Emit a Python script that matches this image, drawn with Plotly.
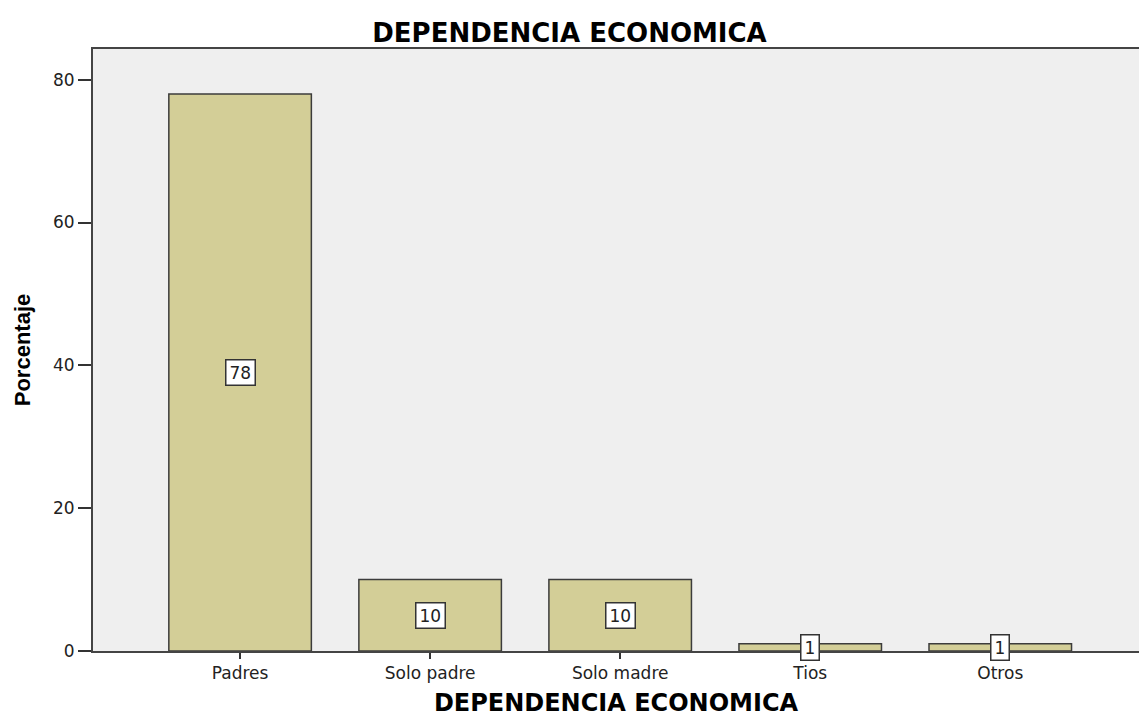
import plotly.graph_objects as go

categorias = ["Padres", "Solo padre", "Solo madre", "Tios", "Otros"]
porcentaje = [78, 10, 10, 1, 1]
ticks_y = [0, 20, 40, 60, 80]

FUENTE = "DejaVu Sans, Arial"

fig = go.Figure()

fig.add_trace(go.Bar(
    x=categorias,
    y=porcentaje,
    width=0.75,
    marker=dict(color="#D3CE97", line=dict(color="#3C3C3C", width=1.5)),
    hoverinfo="x+y",
))

# etiquetas de valor en recuadro blanco, al centro de cada barra
for cat, val in zip(categorias, porcentaje):
    fig.add_annotation(
        x=cat, y=val / 2, text=str(val), showarrow=False,
        font=dict(family=FUENTE, size=17, color="#222"),
        height=18,
        bgcolor="white", bordercolor="#333", borderwidth=1.5, borderpad=3,
    )

fig.update_layout(
    width=1139, height=718,
    margin=dict(l=93, r=0, t=49, b=67),
    paper_bgcolor="white",
    plot_bgcolor="#EFEFEF",
    showlegend=False,
    title=dict(text="<b>DEPENDENCIA ECONOMICA</b>", x=0.5, xanchor="center",
               y=0.954, yanchor="middle",
               font=dict(family=FUENTE, size=26, color="black")),
    font=dict(family=FUENTE, size=16, color="#222"),
)

fig.update_xaxes(
    range=[-0.774, 4.73],
    showline=True, linecolor="#444", linewidth=2, mirror=True,
    ticks="outside", ticklen=6, tickwidth=2, tickcolor="#333",
    tickfont=dict(size=17),
    showgrid=False,
    title=dict(text="<b>DEPENDENCIA ECONOMICA</b>", standoff=12,
               font=dict(family=FUENTE, size=24, color="black")),
)

fig.update_yaxes(
    range=[0, 84.3],
    tickvals=ticks_y,
    showline=True, linecolor="#444", linewidth=2,
    ticks="outside", ticklen=13, tickwidth=2, tickcolor="#333",
    tickfont=dict(size=17),
    showgrid=False, zeroline=False,
    title=dict(text="<b>Porcentaje</b>", standoff=16,
               font=dict(family="Liberation Sans, Arial", size=22, color="black")),
)

# quitar el margen por defecto del body para que la figura llene la ventana
fig.write_html("out.html", config={"displayModeBar": False},
               post_script="document.body.style.margin='0';")
